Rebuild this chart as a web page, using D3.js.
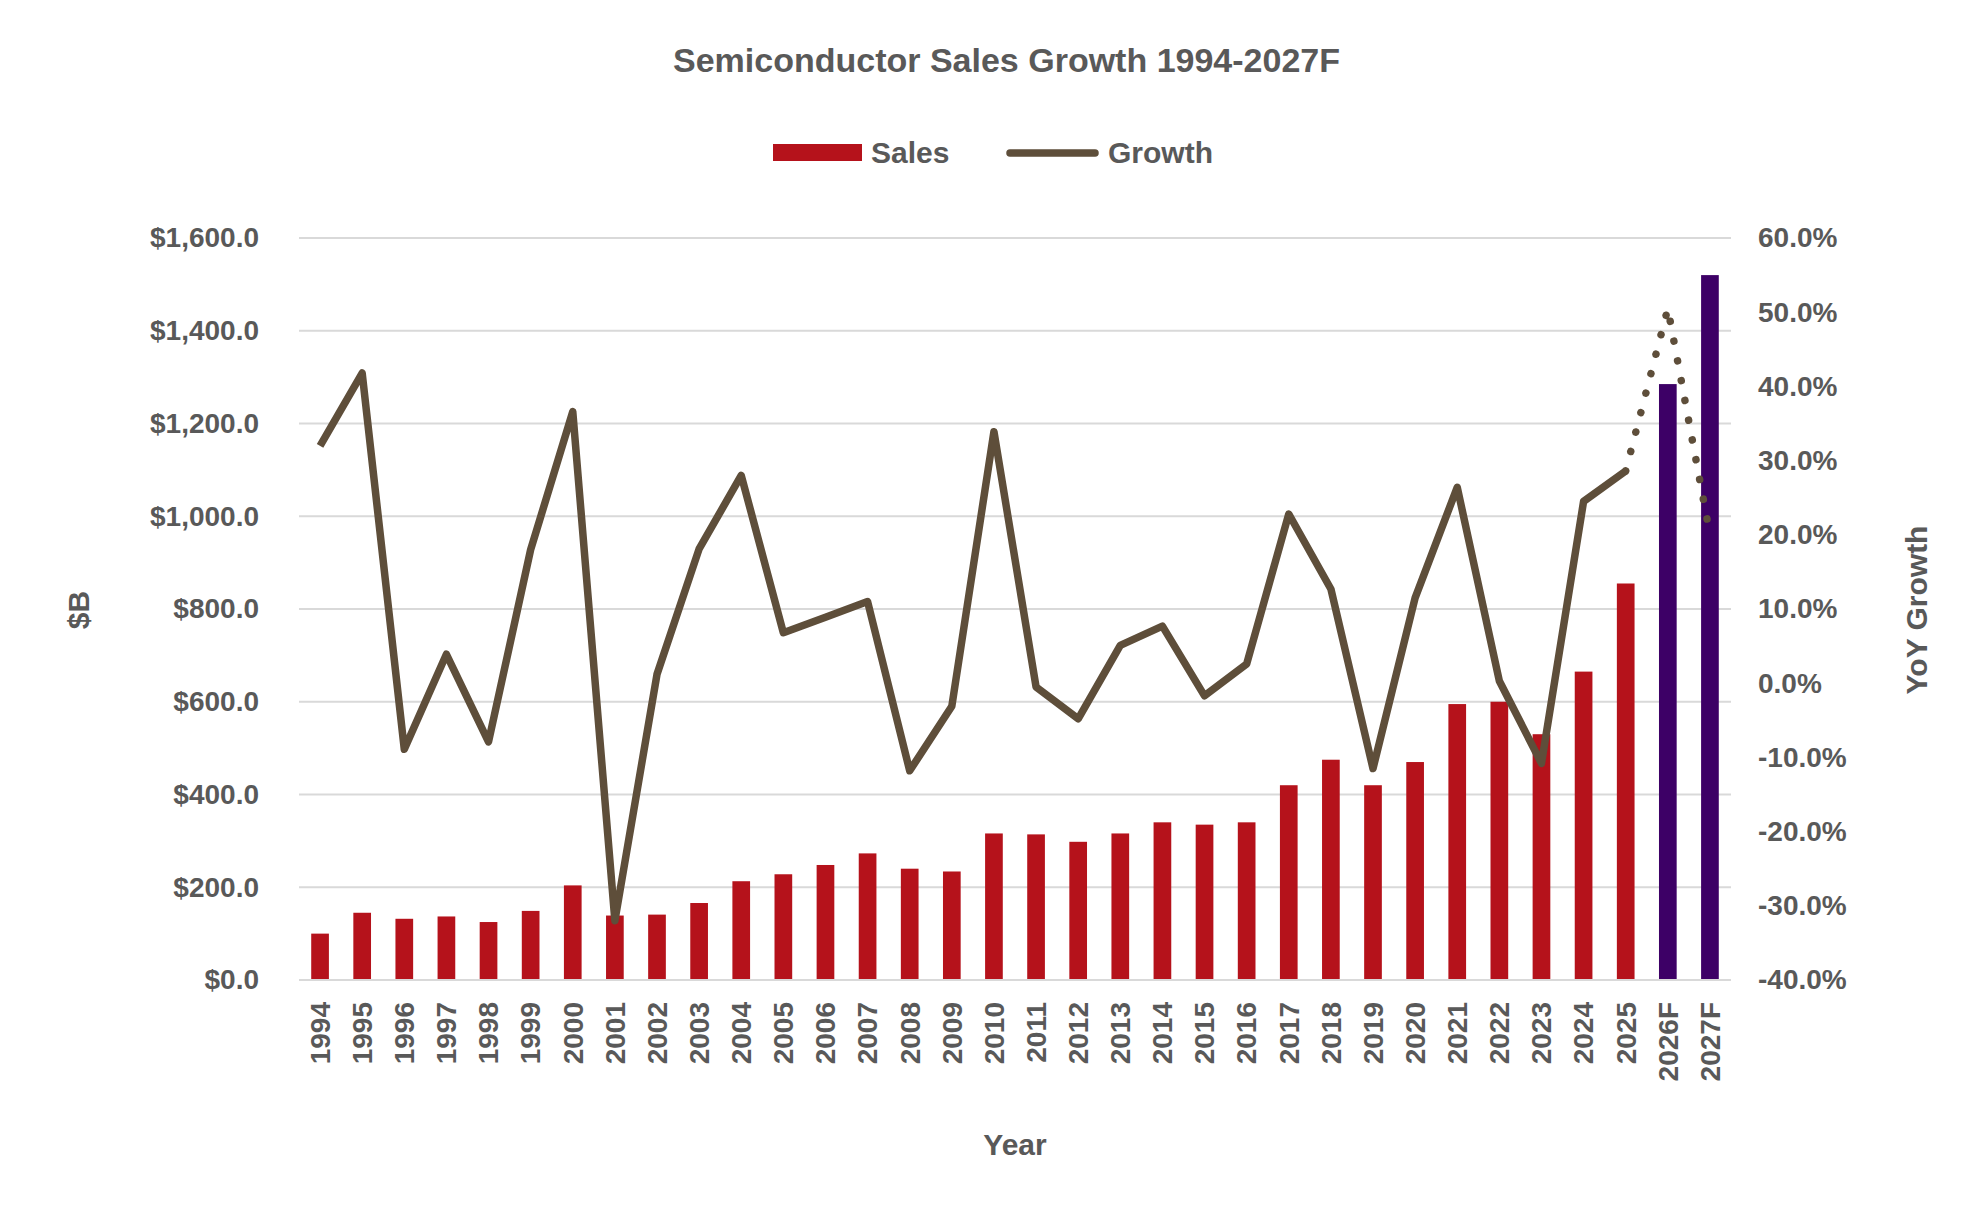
<!DOCTYPE html>
<html>
<head>
<meta charset="utf-8">
<script src="https://cdn.jsdelivr.net/npm/d3@7"></script>
<style>
  body { margin: 0; background: #fff; }
  text { font-family: "Liberation Sans", Arial, sans-serif; font-weight: bold; fill: #595959; }
</style>
</head>
<body>
<script>
const years = ["1994","1995","1996","1997","1998","1999","2000","2001","2002","2003","2004","2005","2006","2007","2008","2009","2010","2011","2012","2013","2014","2015","2016","2017","2018","2019","2020","2021","2022","2023","2024","2025","2026F","2027F"];
const sales = [100,145,132,137,125,149,204,139,141,166,213,228,248,273,240,234,316,314,298,316,340,335,340,420,475,420,470,595,600,530,665,855,1285,1520];
const growth = [32,41.8,-8.9,3.9,-7.9,18,36.6,-32,1.2,18.1,28,6.8,8.9,11,-11.8,-3.1,33.9,-0.5,-4.8,5.1,7.7,-1.7,2.6,22.8,12.7,-11.5,11.5,26.4,0.3,-10.8,24.5,28.6,50.5,20];
const forecast = ["2026F","2027F"];
const leftTicks = [0,200,400,600,800,1000,1200,1400,1600];
const rightTicks = [-40,-30,-20,-10,0,10,20,30,40,50,60];

const W = 1983, H = 1215;
const m = {left: 299, right: 1731, top: 238, bottom: 980};
const red = "#B5121B", purple = "#3D0066", brown = "#5E4E3A";

const svg = d3.select("body").append("svg").attr("width", W).attr("height", H);

const x = d3.scaleBand().domain(years).range([m.left, m.right]).paddingInner(0.58).paddingOuter(0.29);
const y = d3.scaleLinear().domain([0, 1600]).range([m.bottom, m.top]);
const y2 = d3.scaleLinear().domain([-40, 60]).range([m.bottom, m.top]);

// gridlines
svg.append("g").selectAll("line").data(leftTicks).join("line")
  .attr("x1", m.left).attr("x2", m.right)
  .attr("y1", d => y(d)).attr("y2", d => y(d))
  .attr("stroke", "#D9D9D9").attr("stroke-width", 2);

// left axis
const gl = svg.append("g").attr("transform", `translate(${m.left},0)`)
  .call(d3.axisLeft(y).tickValues(leftTicks).tickSize(0).tickPadding(40)
    .tickFormat(d => "$" + d3.format(",.1f")(d)));
gl.select(".domain").remove();
gl.selectAll("text").style("font-size", "28px").attr("fill", "#595959");

// right axis
const gr = svg.append("g").attr("transform", `translate(${m.right},0)`)
  .call(d3.axisRight(y2).tickValues(rightTicks).tickSize(0).tickPadding(27)
    .tickFormat(d => d.toFixed(1) + "%"));
gr.select(".domain").remove();
gr.selectAll("text").style("font-size", "28px").attr("fill", "#595959");

// bars
const data = years.map((yr, i) => ({yr, s: sales[i], g: growth[i]}));
svg.append("g").selectAll("rect").data(data).join("rect")
  .attr("x", d => x(d.yr)).attr("width", x.bandwidth())
  .attr("y", d => y(d.s)).attr("height", d => y(0) - y(d.s))
  .attr("fill", d => forecast.includes(d.yr) ? purple : red);

// bottom axis
svg.append("line").attr("x1", m.left).attr("x2", m.right)
  .attr("y1", m.bottom).attr("y2", m.bottom).attr("stroke", "#D9D9D9").attr("stroke-width", 2);
const gx = svg.append("g").attr("transform", `translate(0,${m.bottom})`)
  .call(d3.axisBottom(x).tickSize(0).tickPadding(0));
gx.select(".domain").remove();
gx.selectAll("text")
  .style("font-size", "28px").attr("fill", "#595959")
  .attr("text-anchor", "end").attr("dy", "0.35em")
  .attr("transform", "translate(0,22) rotate(-90)").attr("x", 0).attr("y", 0);

// growth line
const cx = d => x(d.yr) + x.bandwidth() / 2;
const line = d3.line().x(cx).y(d => y2(d.g));
const actual = data.filter(d => !forecast.includes(d.yr));
const fc = data.slice(actual.length - 1);
svg.append("path").datum(actual).attr("d", line)
  .attr("fill", "none").attr("stroke", brown).attr("stroke-width", 7.5).attr("stroke-linejoin", "round");
svg.append("path").datum(fc).attr("d", line)
  .attr("fill", "none").attr("stroke", brown).attr("stroke-width", 7.5)
  .attr("stroke-dasharray", "0.1 20").attr("stroke-linecap", "round");

// titles
svg.append("text").attr("x", W / 2 + 15).attr("y", 72).attr("text-anchor", "middle")
  .style("font-size", "34px").text("Semiconductor Sales Growth 1994-2027F");
svg.append("text").attr("x", (m.left + m.right) / 2).attr("y", 1155).attr("text-anchor", "middle")
  .style("font-size", "30px").text("Year");
svg.append("text").attr("transform", `translate(89,610) rotate(-90)`).attr("text-anchor", "middle")
  .style("font-size", "30px").text("$B");
svg.append("text").attr("transform", `translate(1927,610) rotate(-90)`).attr("text-anchor", "middle")
  .style("font-size", "30px").text("YoY Growth");

// legend
const lg = svg.append("g");
lg.append("rect").attr("x", 773).attr("y", 144).attr("width", 89).attr("height", 17).attr("fill", red);
lg.append("text").attr("x", 871).attr("y", 163).style("font-size", "30px").text("Sales");
lg.append("line").attr("x1", 1010).attr("x2", 1095).attr("y1", 153).attr("y2", 153)
  .attr("stroke", brown).attr("stroke-width", 7.5).attr("stroke-linecap", "round");
lg.append("text").attr("x", 1108).attr("y", 163).style("font-size", "30px").text("Growth");
</script>
</body>
</html>
